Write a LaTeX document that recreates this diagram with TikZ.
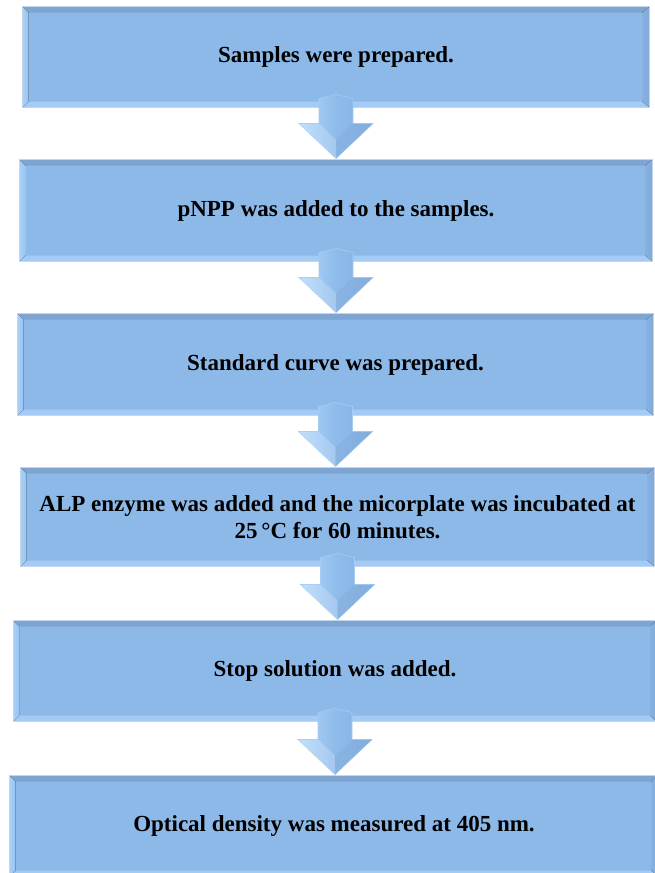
\documentclass[tikz,border=0pt]{standalone}
\usepackage{fontspec}
\setmainfont{Liberation Serif}
\usetikzlibrary{calc}
\definecolor{boxfill}{HTML}{8DB9E9}
\definecolor{boxline}{HTML}{C3D6EA}
\definecolor{bevtop}{HTML}{7EA4D1}
\definecolor{bevleft}{HTML}{A8D0FB}
\definecolor{bevright}{HTML}{80A9D8}
\definecolor{bevbottom}{HTML}{A3CBF6}
\definecolor{arrlight}{HTML}{B3D8FC}
\definecolor{arrmid}{HTML}{8EBBEA}
\definecolor{arrdark}{HTML}{84B1E2}
\definecolor{arrline}{HTML}{A5CCF2}
\tikzset{
  flowbox/.style={rectangle, fill=boxfill, draw=boxline, line width=1pt,
    minimum height=100pt, inner sep=0pt, align=center,
    font=\bfseries\fontsize{23}{26.5}\selectfont},
  downarrow/.style={left color=arrlight, right color=arrdark, middle color=arrmid,
    draw=arrline, line width=0.6pt, line join=miter},
}
\newcommand\flowbevel[1]{%
  \fill[bevtop] (#1.north west) -- (#1.north east) -- ([shift={(-6pt,-6pt)}]#1.north east) -- ([shift={(6pt,-6pt)}]#1.north west) -- cycle;
  \fill[bevbottom] (#1.south west) -- (#1.south east) -- ([shift={(-6pt,6pt)}]#1.south east) -- ([shift={(6pt,6pt)}]#1.south west) -- cycle;
  \fill[left color=bevleft, right color=boxfill!60!bevleft] (#1.north west) -- ([shift={(6pt,-6pt)}]#1.north west) -- ([shift={(6pt,6pt)}]#1.south west) -- (#1.south west) -- cycle;
  \fill[left color=boxfill!50!bevright, right color=bevright] (#1.north east) -- ([shift={(-7pt,-6pt)}]#1.north east) -- ([shift={(-7pt,6pt)}]#1.south east) -- (#1.south east) -- cycle;
  \draw[boxline, line width=1pt] (#1.north west) rectangle (#1.south east);
}
\newcommand\flowarrow[2]{%
  \path[downarrow] let \p1=($(#1.south)+(0,13pt)$), \p2=(#2.north) in
    (\x1-17pt,\y1-4pt) -- (\x1,\y1) -- (\x1+17pt,\y1-4pt) -- (\x1+17pt,\y2+36pt)
    -- (\x1+37pt,\y2+36pt) -- (\x1,\y2+1pt) -- (\x1-37pt,\y2+36pt) -- (\x1-17pt,\y2+36pt) -- cycle;
  \fill[white, opacity=0.2] let \p1=($(#1.south)+(0,13pt)$), \p2=(#2.north) in
    (\x1-37pt,\y2+36pt) -- (\x1-17pt,\y2+36pt) -- (\x1,\y2+20pt) -- (\x1,\y2+1pt) -- cycle;
  \fill[bevtop, opacity=0.3] let \p1=($(#1.south)+(0,13pt)$), \p2=(#2.north) in
    (\x1+37pt,\y2+36pt) -- (\x1+17pt,\y2+36pt) -- (\x1,\y2+20pt) -- (\x1,\y2+1pt) -- cycle;
}
\begin{document}
\begin{tikzpicture}[x=1pt,y=1pt]
\useasboundingbox (0,0) rectangle (654,-873);
\fill[white] (0,0) rectangle (654,-873);
\node[flowbox, minimum width=626pt] (b1) at (336,-57) {\phantom{Samples were prepared.}};
\node[flowbox, minimum width=632pt, minimum height=101pt] (b2) at (336,-210.5) {\phantom{pNPP was added to the samples.}};
\node[flowbox, minimum width=635pt, minimum height=101pt] (b3) at (335.5,-364.5) {\phantom{Standard curve was prepared.}};
\node[flowbox, minimum width=633pt, minimum height=98pt] (b4) at (337.5,-517) {};
\node[flowbox, minimum width=643pt] (b5) at (335,-671) {};
\node[flowbox, minimum width=648pt] (b6) at (334,-826) {};
\flowbevel{b1}
\flowbevel{b2}
\flowbevel{b3}
\flowbevel{b4}
\flowbevel{b5}
\flowbevel{b6}
\node[flowbox, fill=none, draw=none] (t1) at (b1.center) {Samples were prepared.};
\node[flowbox, fill=none, draw=none] (t2) at (b2.center) {pNPP was added to the samples.};
\node[flowbox, fill=none, draw=none] (t3) at (b3.center) {Standard curve was prepared.};
\node[flowbox, fill=none, draw=none] (t4) at (b4.center) {ALP enzyme was added and the micorplate was incubated at\\25\,°C for 60 minutes.};
\node[flowbox, fill=none, draw=none] (t5) at (b5.center) {Stop solution was added.};
\node[flowbox, fill=none, draw=none] (t6) at (b6.center) {Optical density was measured at 405 nm.};
\flowarrow{b1}{b2}
\flowarrow{b2}{b3}
\flowarrow{b3}{b4}
\flowarrow{b4}{b5}
\flowarrow{b5}{b6}
\end{tikzpicture}
\end{document}
